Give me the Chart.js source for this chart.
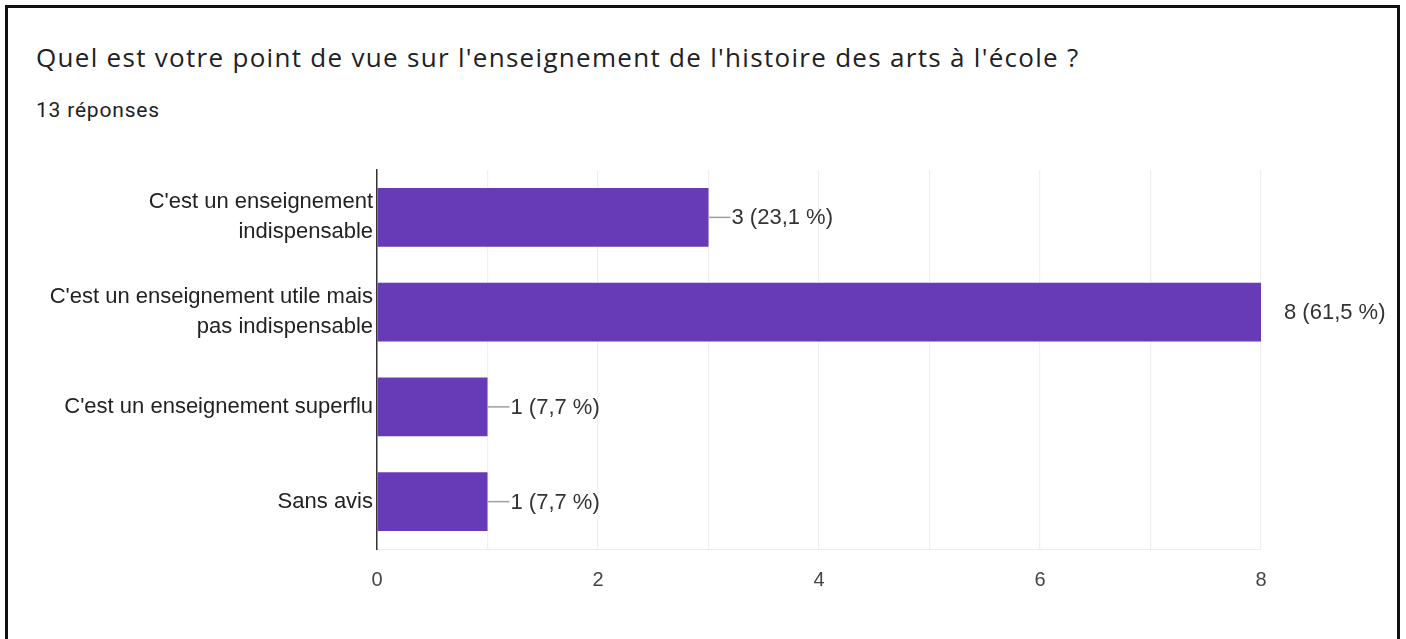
<!DOCTYPE html>
<html>
<head>
<meta charset="utf-8">
<script src="https://cdn.jsdelivr.net/npm/chart.js@4"></script>
<style>
  html, body { margin: 0; padding: 0; background: #fff; }
  body { width: 1406px; height: 639px; position: relative; overflow: hidden; }
  .frame {
    position: absolute; left: 5px; top: 5px; width: 1389px; height: 700px;
    border: 3px solid #111; box-sizing: content-box;
  }
  .titre {
    position: absolute; left: 36px; top: 41px; margin: 0;
    font: 26px "Open Sans", sans-serif; letter-spacing: 1.3px;
    color: #202124; line-height: 32px; white-space: nowrap;
  }
  .sous-titre {
    position: absolute; left: 36px; top: 96px; margin: 0;
    font: 21px Roboto, sans-serif; letter-spacing: 0.8px;
    color: #202124; line-height: 28px;
  }
  #graphique { position: absolute; left: 0; top: 0; }
</style>
</head>
<body>
<div class="frame"></div>
<p class="titre">Quel est votre point de vue sur l'enseignement de l'histoire des arts à l'école ?</p>
<p class="sous-titre">13 réponses</p>
<canvas id="graphique" width="1406" height="639"></canvas>
<script>
// données
const categories = [
  ["C'est un enseignement", "indispensable"],
  ["C'est un enseignement utile mais", "pas indispensable"],
  ["C'est un enseignement superflu"],
  ["Sans avis"]
];
const reponses = [3, 8, 1, 1];
const pourcentages = ['23,1', '61,5', '7,7', '7,7'];
const ticksAffiches = [0, 2, 4, 6, 8];

const policeGraph = '"Liberation Sans", Arial, sans-serif';

// étiquettes "—3 (23,1 %)" au bout des barres
const etiquettesBarres = {
  id: 'etiquettesBarres',
  afterDatasetsDraw(chart) {
    const ctx = chart.ctx;
    const meta = chart.getDatasetMeta(0);
    const droite = chart.chartArea.right;
    ctx.save();
    ctx.font = '22px ' + policeGraph;
    ctx.textBaseline = 'middle';
    ctx.textAlign = 'left';
    meta.data.forEach((barre, i) => {
      const x = barre.x;
      const y = barre.y;
      if (x < droite - 1) {
        ctx.strokeStyle = '#9e9e9e';
        ctx.lineWidth = 1.5;
        ctx.beginPath();
        ctx.moveTo(x, y);
        ctx.lineTo(x + 22, y);
        ctx.stroke();
      }
      ctx.fillStyle = '#333';
      ctx.fillText(reponses[i] + ' (' + pourcentages[i] + ' %)', x + 23, y + 1);
    });
    ctx.restore();
  }
};

new Chart(document.getElementById('graphique').getContext('2d'), {
  type: 'bar',
  data: {
    labels: categories,
    datasets: [{
      data: reponses,
      backgroundColor: '#673ab7',
      borderWidth: 0,
      barPercentage: 0.62,
      categoryPercentage: 1
    }]
  },
  options: {
    indexAxis: 'y',
    responsive: false,
    animation: false,
    layout: { padding: { left: 0, right: 145, top: 170, bottom: 0 } },
    scales: {
      x: {
        min: 0,
        max: 8,
        grid: { color: '#efefef', lineWidth: 1.2, drawTicks: false },
        border: { display: true, color: '#ececec' },
        ticks: {
          stepSize: 1,
          padding: 19,
          color: '#444',
          font: { family: policeGraph, size: 20 },
          callback: v => ticksAffiches.includes(v) ? String(v) : ''
        },
        afterFit: s => { s.height = 90; }
      },
      y: {
        grid: { display: false, drawTicks: false },
        border: { display: true, color: '#333', width: 1.5 },
        ticks: {
          padding: 4,
          color: '#222',
          font: { family: policeGraph, size: 22, lineHeight: 1.36 }
        },
        afterFit: s => { s.width = 377; }
      }
    },
    plugins: {
      legend: { display: false },
      tooltip: { enabled: false }
    }
  },
  plugins: [etiquettesBarres]
});
</script>
</body>
</html>
